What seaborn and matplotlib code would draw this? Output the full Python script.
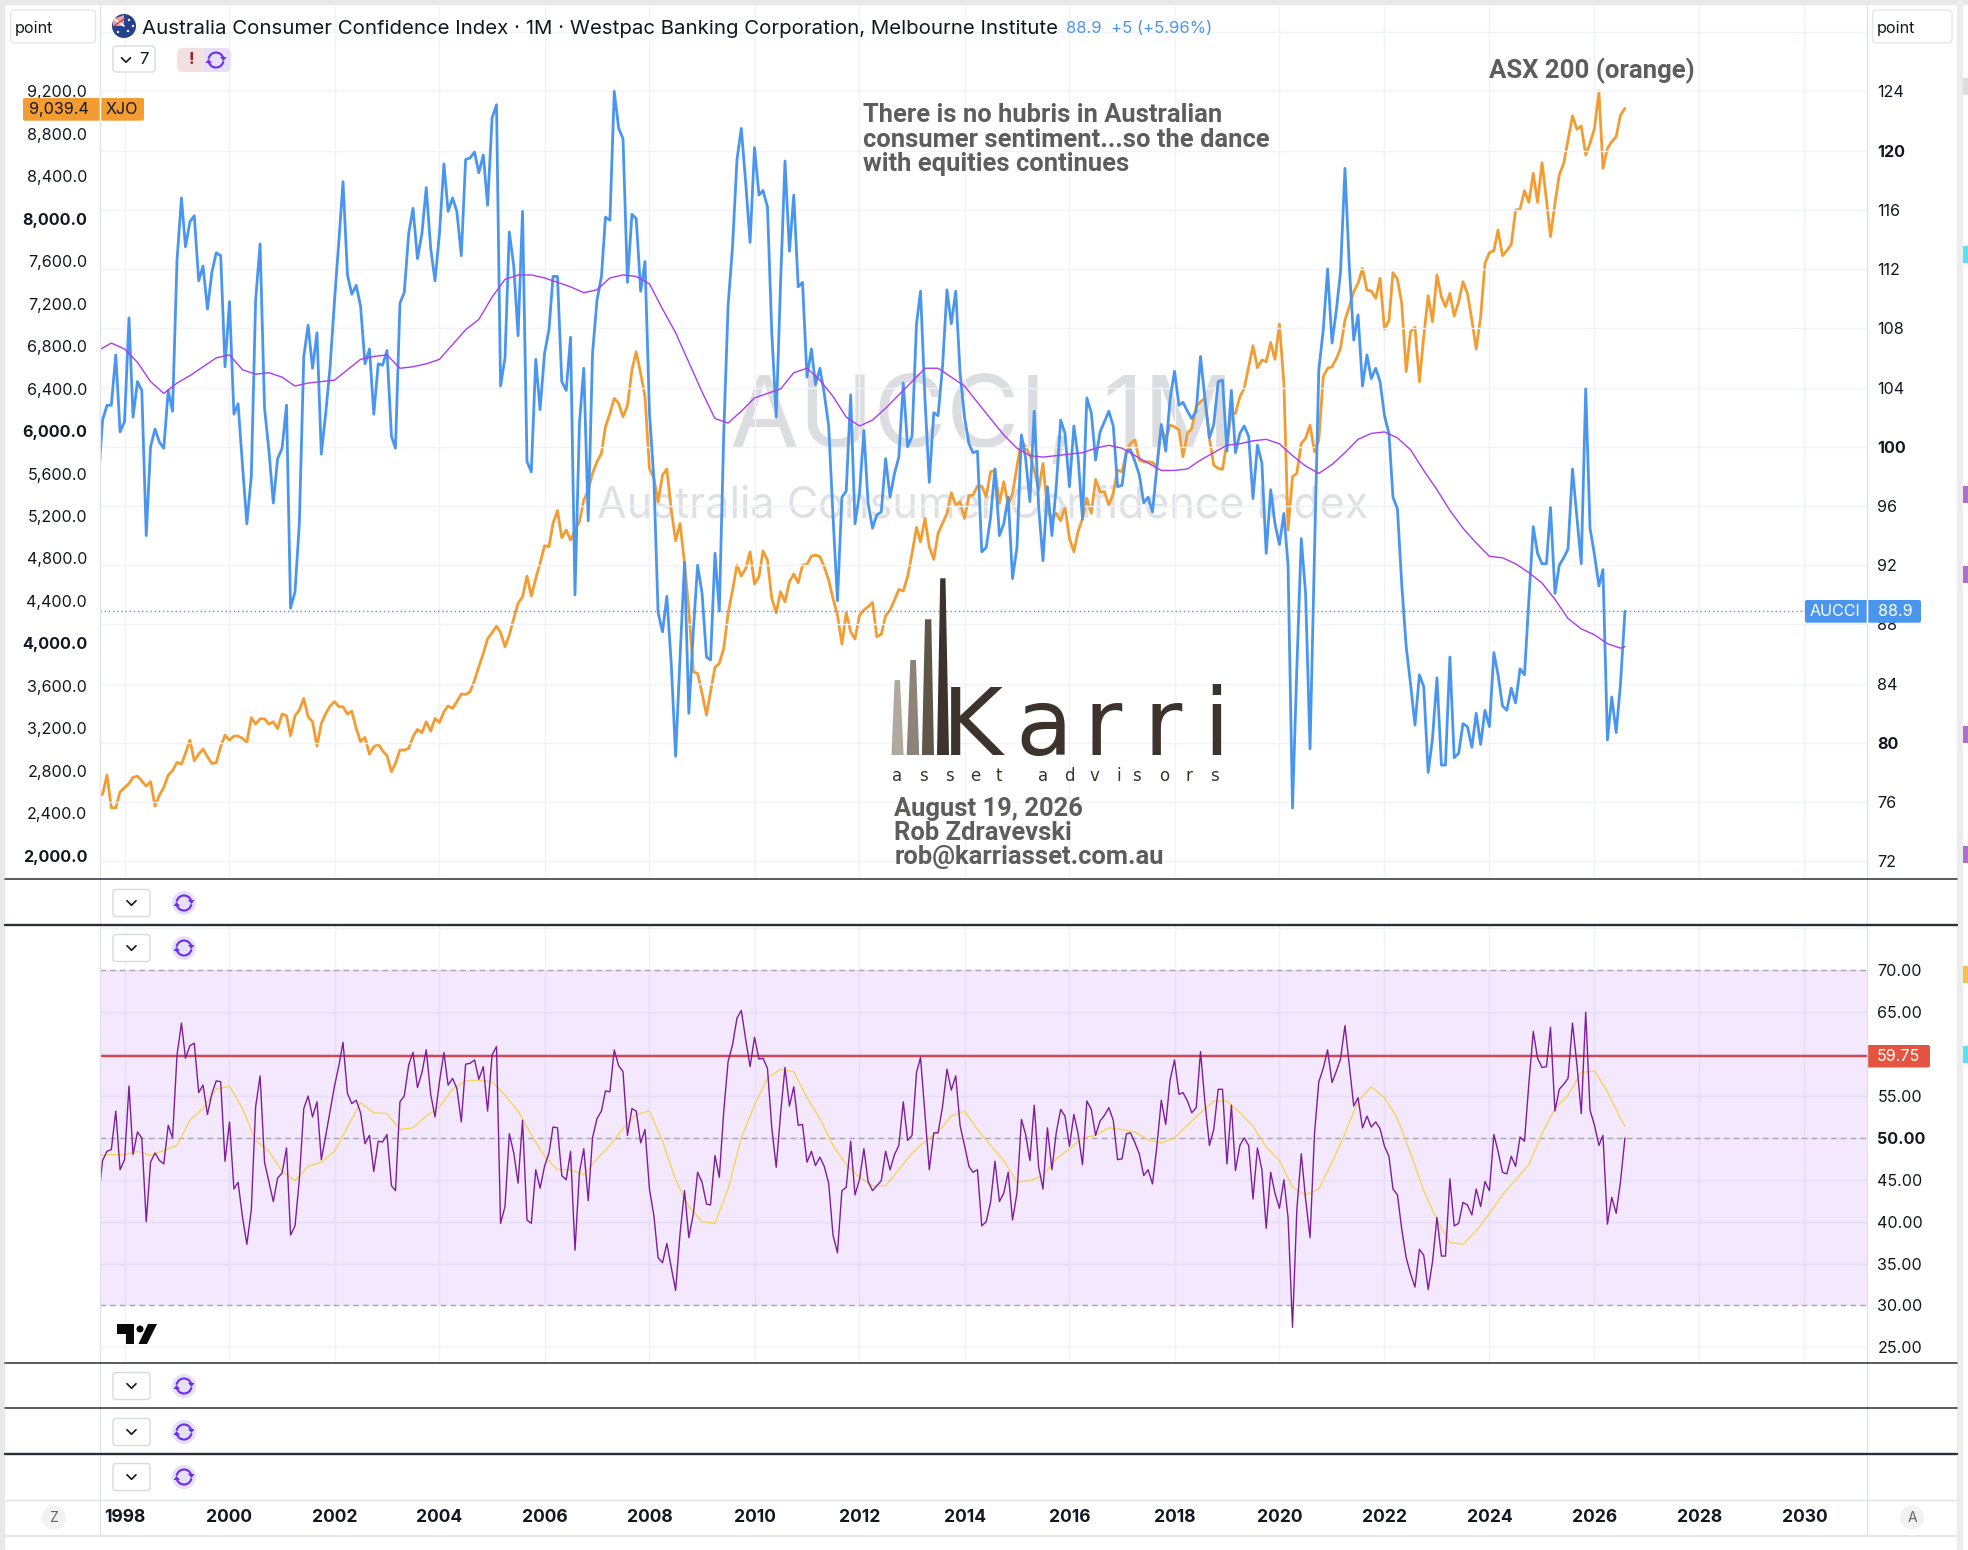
import pandas as pd
import matplotlib
matplotlib.use("Agg")
import matplotlib.pyplot as plt
from matplotlib.patches import Rectangle, Polygon, Circle, FancyBboxPatch, Arc
import seaborn as sns

# monthly values, Jul 1997 to Aug 2026, one row per year
aucci_values = [
    97.4, 101.8, 102.8, 102.8, 106.2, 101.0,
    101.7, 108.7, 102.0, 104.4, 103.8, 94.0, 100.0, 101.2, 100.3, 99.9, 103.8, 102.4,
    112.6, 116.8, 113.5, 115.2, 115.6, 111.2, 112.2, 109.3, 111.8, 113.1, 112.9, 105.4,
    109.8, 102.2, 102.9, 98.7, 94.8, 98.0, 109.9, 113.7, 102.6, 99.8, 96.2, 99.2,
    99.9, 102.8, 89.1, 90.2, 94.8, 106.1, 108.2, 105.3, 107.7, 99.5, 102.3, 105.4,
    109.9, 114.0, 117.9, 111.6, 110.3, 110.9, 109.5, 105.6, 106.6, 102.2, 105.6, 105.5,
    106.5, 100.7, 99.9, 109.7, 110.4, 114.4, 116.1, 112.7, 114.4, 117.5, 113.4, 111.2,
    114.4, 119.1, 115.9, 116.8, 115.9, 112.9, 119.4, 119.5, 119.9, 118.5, 119.7, 116.3,
    122.2, 123.1, 104.1, 106.0, 114.5, 112.2, 107.5, 115.9, 99.0, 98.3, 105.9, 102.5,
    106.3, 107.9, 111.5, 111.5, 104.4, 103.8, 107.4, 90.0, 101.6, 105.3, 95.0, 106.3,
    109.9, 111.5, 115.5, 115.3, 124.0, 121.5, 120.8, 111.1, 115.7, 115.4, 110.5, 112.5,
    102.3, 97.8, 88.8, 87.5, 89.9, 85.3, 79.1, 85.8, 92.2, 82.0, 87.5, 92.0,
    90.1, 85.8, 85.6, 92.8, 88.9, 100.9, 109.5, 113.5, 119.4, 121.5, 117.8, 113.8,
    120.2, 117.0, 117.3, 116.2, 107.7, 102.0, 111.0, 119.3, 113.2, 117.0, 110.8, 111.1,
    104.7, 106.6, 104.2, 105.3, 103.6, 101.4, 95.3, 89.6, 96.6, 97.0, 103.5, 94.8,
    96.8, 101.1, 96.2, 94.5, 95.4, 95.6, 99.2, 96.6, 98.2, 99.3, 104.3, 100.0,
    100.7, 108.3, 110.5, 103.2, 97.6, 102.3, 102.1, 105.4, 110.6, 108.3, 110.5, 105.0,
    102.0, 100.2, 99.6, 99.7, 92.9, 93.2, 95.2, 98.5, 94.0, 94.8, 96.6, 91.1,
    93.2, 100.8, 99.3, 96.3, 102.4, 95.9, 92.3, 97.3, 94.0, 97.3, 101.8, 100.9,
    97.3, 101.4, 99.3, 95.1, 103.3, 102.3, 99.1, 101.0, 101.7, 102.4, 101.4, 97.3,
    97.4, 99.7, 99.8, 99.0, 98.1, 96.2, 96.6, 95.6, 98.7, 101.5, 99.7, 103.2,
    105.1, 102.8, 103.0, 102.4, 101.9, 102.4, 106.1, 103.2, 100.6, 101.5, 104.4, 104.5,
    99.7, 103.8, 99.6, 100.9, 101.4, 100.7, 96.5, 100.1, 98.9, 92.8, 97.1, 94.8,
    93.4, 95.5, 92.0, 75.6, 85.0, 93.8, 90.1, 79.6, 92.9, 105.2, 107.9, 112.0,
    107.0, 109.3, 111.8, 118.8, 112.2, 107.2, 108.9, 104.1, 106.2, 104.6, 105.3, 104.4,
    102.1, 100.9, 96.6, 95.8, 90.7, 86.5, 84.0, 81.2, 84.6, 83.8, 78.0, 80.3,
    84.4, 78.5, 78.5, 85.8, 79.0, 79.3, 81.3, 81.1, 79.7, 82.0, 79.9, 82.2,
    81.1, 86.1, 84.6, 82.5, 82.2, 83.7, 82.7, 85.0, 84.6, 89.6, 94.6, 92.8,
    92.1, 92.1, 95.9, 90.1, 92.0, 92.5, 93.1, 98.5, 95.2, 92.1, 103.9, 94.5,
    92.7, 90.6, 91.7, 80.2, 83.1, 80.7, 84.0, 88.9,
]

xjo_values = [
    2575, 2577, 2760, 2452, 2452, 2603,
    2640, 2681, 2738, 2750, 2703, 2656, 2697, 2468, 2571, 2643, 2760, 2800,
    2879, 2863, 2964, 3089, 2894, 2957, 3004, 2932, 2869, 2876, 3026, 3136,
    3089, 3127, 3127, 3105, 3067, 3300, 3240, 3290, 3290, 3240, 3262, 3196,
    3334, 3318, 3130, 3318, 3372, 3482, 3309, 3262, 3033, 3246, 3340, 3410,
    3451, 3403, 3403, 3334, 3362, 3199, 3074, 3114, 2957, 3026, 3051, 2989,
    2942, 2791, 2869, 2995, 2995, 3011, 3121, 3190, 3158, 3262, 3174, 3293,
    3256, 3356, 3410, 3388, 3451, 3523, 3519, 3545, 3654, 3780, 3906, 4044,
    4100, 4163, 4103, 3968, 4078, 4235, 4377, 4439, 4634, 4446, 4612, 4753,
    4920, 4910, 5130, 5250, 4995, 5067, 4973, 5067, 5146, 5350, 5444, 5601,
    5711, 5790, 6041, 6166, 6308, 6261, 6135, 6239, 6575, 6747, 6543, 6323,
    5648, 5554, 5334, 5586, 5642, 5256, 4967, 5130, 4753, 4314, 3733, 3717,
    3529, 3325, 3545, 3774, 3811, 3953, 4282, 4502, 4738, 4634, 4706, 4863,
    4559, 4628, 4870, 4785, 4424, 4289, 4487, 4392, 4581, 4653, 4571, 4738,
    4744, 4822, 4832, 4816, 4722, 4596, 4424, 4267, 3994, 4289, 4110, 4041,
    4261, 4314, 4345, 4386, 4063, 4085, 4261, 4314, 4408, 4508, 4493, 4628,
    4848, 5093, 4957, 5177, 4910, 4791, 5036, 5130, 5225, 5419, 5303, 5334,
    5177, 5391, 5397, 5482, 5482, 5381, 5617, 5626, 5319, 5523, 5303, 5413,
    5664, 5915, 5852, 5774, 5633, 5444, 5695, 5256, 5177, 5225, 5155, 5287,
    4989, 4863, 5052, 5177, 5366, 5225, 5545, 5428, 5428, 5303, 5413, 5633,
    5617, 5805, 5884, 5915, 5727, 5711, 5711, 5705, 5664, 6041, 5915, 6056,
    6041, 6009, 5758, 5978, 6025, 6229, 6276, 6308, 5931, 5680, 5648, 5639,
    5900, 6166, 6166, 6323, 6402, 6606, 6804, 6597, 6669, 6653, 6835, 6675,
    7008, 6449, 5067, 5570, 5601, 5884, 5931, 6056, 5805, 5915, 6512, 6590,
    6606, 6685, 6779, 7046, 7171, 7313, 7391, 7532, 7328, 7319, 7250, 7438,
    6961, 7039, 7492, 7429, 7203, 6559, 6936, 6977, 6465, 6889, 7275, 7030,
    7470, 7265, 7171, 7297, 7083, 7218, 7407, 7297, 7046, 6772, 7077, 7579,
    7680, 7699, 7893, 7652, 7699, 7758, 8082, 8088, 8264, 8154, 8427, 8154,
    8528, 8176, 7831, 8145, 8412, 8521, 8741, 8970, 8842, 8873, 8600, 8710,
    8851, 9196, 8474, 8663, 8725, 8773, 8977, 9039.4,
]

rsi_values = [
    42.3, 47.3, 48.4, 48.6, 53.2, 46.2,
    47.4, 56.2, 48.0, 50.7, 50.0, 40.0, 47.1, 48.2, 47.3, 46.9, 51.5, 50.0,
    59.9, 63.7, 59.5, 61.0, 61.3, 55.4, 56.3, 52.8, 55.3, 56.8, 56.7, 47.2,
    51.9, 43.9, 44.7, 40.5, 37.3, 41.4, 53.7, 57.4, 47.1, 44.8, 42.4, 45.2,
    45.8, 48.8, 38.4, 39.5, 45.0, 53.5, 55.0, 52.5, 54.3, 47.4, 50.3, 53.2,
    56.2, 58.7, 61.4, 55.3, 54.1, 54.5, 53.0, 49.3, 50.3, 46.0, 49.6, 49.5,
    50.4, 44.3, 43.7, 54.3, 55.0, 58.7, 60.2, 56.0, 57.8, 60.5, 55.2, 52.5,
    56.7, 60.2, 56.3, 57.1, 55.9, 51.9, 58.8, 58.9, 59.3, 57.0, 58.5, 53.2,
    59.9, 60.9, 39.8, 41.8, 50.5, 48.2, 44.6, 52.1, 40.2, 39.8, 46.2, 44.0,
    46.6, 48.2, 51.3, 51.2, 45.5, 45.0, 48.4, 36.6, 45.9, 48.7, 42.5, 50.0,
    52.3, 53.2, 55.6, 55.5, 60.5, 58.6, 57.9, 50.3, 53.5, 53.2, 49.4, 51.0,
    43.9, 40.7, 35.7, 35.1, 37.4, 34.5, 31.8, 38.6, 43.7, 38.1, 40.9, 45.9,
    44.7, 42.1, 42.0, 47.9, 45.3, 53.2, 59.1, 61.1, 64.3, 65.2, 61.7, 58.5,
    62.0, 59.4, 59.5, 58.3, 51.2, 46.5, 52.8, 58.4, 53.8, 56.1, 51.5, 51.6,
    47.1, 48.4, 46.7, 47.7, 46.6, 44.6, 38.4, 36.3, 43.7, 44.1, 49.6, 43.2,
    45.0, 48.7, 44.8, 43.7, 44.3, 44.9, 48.4, 46.2, 48.0, 49.1, 54.3, 49.7,
    50.3, 57.8, 59.6, 52.8, 46.2, 50.6, 50.6, 53.7, 58.2, 55.7, 57.4, 51.5,
    49.1, 46.6, 45.9, 46.2, 39.5, 40.0, 42.3, 47.2, 42.4, 43.4, 45.9, 40.2,
    43.4, 52.2, 50.5, 47.3, 53.9, 46.5, 43.9, 51.2, 46.2, 50.6, 53.4, 52.6,
    49.0, 52.8, 50.5, 46.8, 54.4, 53.4, 50.3, 52.0, 52.7, 53.6, 52.1, 47.4,
    47.5, 50.5, 50.6, 49.4, 48.1, 45.5, 46.2, 44.5, 49.1, 54.5, 51.6, 56.9,
    59.3, 55.2, 55.4, 54.4, 53.0, 53.6, 60.3, 54.2, 49.1, 51.0, 55.8, 55.8,
    46.9, 53.9, 46.1, 49.1, 50.0, 49.1, 42.7, 48.8, 46.2, 39.2, 45.9, 43.4,
    41.6, 45.0, 40.5, 27.4, 41.4, 48.1, 42.7, 38.1, 50.5, 56.7, 58.3, 60.5,
    56.6, 58.0, 59.4, 63.4, 58.7, 53.8, 54.8, 51.2, 52.6, 51.3, 51.9, 51.1,
    49.0, 47.8, 43.9, 43.2, 39.1, 35.7, 33.8, 32.2, 36.7, 36.0, 31.9, 35.2,
    40.5, 35.9, 35.9, 45.1, 39.5, 39.8, 42.3, 42.0, 40.8, 43.9, 41.8, 44.8,
    43.7, 50.4, 48.4, 45.9, 45.7, 47.8, 46.6, 50.1, 49.6, 56.4, 62.7, 59.5,
    58.4, 58.5, 63.2, 53.2, 55.8, 56.4, 57.1, 63.7, 58.7, 52.9, 65.0, 53.3,
    51.5, 49.1, 50.3, 39.7, 42.9, 41.0, 44.8, 50.0,
]

# moving averages read every three months, Jul 1997 to Jul 2026, then Aug 2026
aucci_ma_values = [
    106.5, 107.0,
    106.6, 105.7, 104.4, 103.6,
    104.3, 104.8, 105.4, 106.0,
    106.2, 105.2, 104.9, 105.0,
    104.7, 104.1, 104.3, 104.4,
    104.5, 105.2, 105.9, 106.1,
    106.2, 105.3, 105.4, 105.6,
    105.9, 106.9, 107.9, 108.6,
    110.1, 111.3, 111.6, 111.6,
    111.4, 111.1, 110.8, 110.4,
    110.6, 111.4, 111.6, 111.5,
    111.0, 109.3, 107.7, 105.7,
    103.7, 101.9, 101.6, 102.4,
    103.3, 103.6, 103.9, 105.0,
    105.3, 104.5, 103.4, 102.0,
    101.4, 101.8, 102.6, 103.5,
    104.4, 105.3, 105.3, 104.7,
    104.1, 103.0, 101.9, 100.8,
    99.9, 99.4, 99.3, 99.4,
    99.5, 99.6, 99.9, 100.1,
    99.9, 99.4, 98.9, 98.4,
    98.4, 98.5, 99.1, 99.6,
    100.1, 100.2, 100.4, 100.5,
    100.2, 99.4, 98.7, 98.2,
    98.8, 99.6, 100.5, 100.9,
    101.0, 100.6, 99.8, 98.4,
    97.1, 95.7, 94.5, 93.5,
    92.6, 92.5, 92.1, 91.5,
    90.8, 89.7, 88.4, 87.7,
    87.3, 86.7, 86.4, 86.5,
]

rsi_ma_values = [
    47.9, 48.0,
    48.0, 48.4, 47.9, 48.5,
    49.1, 52.1, 53.5, 55.8,
    56.2, 53.5, 49.7, 48.4,
    46.0, 44.9, 46.6, 47.1,
    48.4, 51.3, 54.2, 53.0,
    52.9, 51.0, 51.2, 52.6,
    53.7, 55.8, 56.8, 56.9,
    56.7, 55.1, 53.2, 50.4,
    47.8, 46.2, 46.2, 45.6,
    47.5, 49.1, 51.1, 52.8,
    53.2, 49.6, 45.0, 41.8,
    40.0, 39.8, 43.9, 50.0,
    53.9, 57.1, 58.2, 57.9,
    54.8, 52.3, 49.1, 46.8,
    45.3, 44.3, 44.3, 46.2,
    48.2, 49.6, 50.7, 52.6,
    53.2, 51.0, 49.1, 47.3,
    44.7, 44.9, 45.5, 47.5,
    48.7, 50.0, 50.3, 51.2,
    51.0, 50.7, 49.8, 49.4,
    50.0, 51.5, 53.0, 54.4,
    54.4, 53.0, 51.4, 48.9,
    47.3, 44.1, 43.2, 43.9,
    47.1, 50.5, 54.4, 56.1,
    54.8, 52.3, 48.2, 43.7,
    40.2, 37.5, 37.3, 38.9,
    41.0, 43.2, 45.0, 46.8,
    50.5, 53.5, 55.1, 57.8,
    58.0, 55.5, 52.3, 51.4,
]

year_ticks = list(range(1998, 2032, 2))
left_ticks = list(range(2000, 9600, 400))
right_ticks = list(range(72, 132, 4))
rsi_ticks = list(range(25, 80, 5))
aucci_last = 88.9
xjo_last = 9039.4
rsi_level = 59.75

W, H = 1968, 1550
LEFT, RIGHT = 100.4, 1867
GRID = "#f0f3fa"
BLUE = "#4a96ee"
ORANGE = "#f39c32"
DARK = "#131722"
GREY_TXT = "#5d5d5d"
LAV = "#e6e0f5"


def box(l, t, r, b):
    return [l / W, 1 - b / H, (r - l) / W, (b - t) / H]


sns.set_theme(style="white")
plt.rcParams["font.family"] = ["Inter", "DejaVu Sans"]

months = pd.date_range("1997-07-01", periods=len(aucci_values), freq="MS")
quarters = pd.date_range("1997-07-01", "2026-07-01", freq="3MS").append(pd.DatetimeIndex(["2026-08-01"]))
x_left = pd.Timestamp("1998-01-01") - pd.Timedelta(days=168)
x_right = pd.Timestamp("2030-01-01") + pd.Timedelta(days=435)
year_dates = [pd.Timestamp(year=y, month=1, day=1) for y in year_ticks]

fig = plt.figure(figsize=(W / 100, H / 100), dpi=100, facecolor="white")

# watermark sits behind everything else
back = fig.add_axes([0, 0, 1, 1], zorder=0)
back.set_xlim(0, W)
back.set_ylim(H, 0)
back.axis("off")
back.text(982, 421, "AUCCI, 1M", fontsize=72, color="#dcdde0", ha="center", va="center")
back.text(983, 506, "Australia Consumer Confidence Index", fontsize=31, color="#dfe0e3", ha="center", va="center")

# main pane: two y scales on one time axis
ax_xjo = fig.add_axes(box(LEFT, 5, RIGHT, 879.3), zorder=1)
ax_xjo.patch.set_visible(False)
ax_aucci = ax_xjo.twinx()
ax_aucci.set_zorder(2)
ax_aucci.patch.set_visible(False)

sns.lineplot(x=months, y=xjo_values, ax=ax_xjo, color=ORANGE, linewidth=2.0, errorbar=None)
sns.lineplot(x=months, y=aucci_values, ax=ax_aucci, color=BLUE, linewidth=2.0, errorbar=None)
sns.lineplot(x=quarters, y=aucci_ma_values, ax=ax_aucci, color="#a93cf0", linewidth=1.0, errorbar=None)
ax_aucci.axhline(aucci_last, color=BLUE, linewidth=1.0, linestyle=(0, (1, 2)))

ax_xjo.set_xlim(x_left, x_right)
ax_xjo.set_ylim(1778, 10013)
ax_aucci.set_ylim(70.79, 129.83)
ax_xjo.set_yticks(left_ticks)
ax_xjo.set_yticklabels([f"{v:,.1f}" for v in left_ticks])
ax_aucci.set_yticks(right_ticks)
ax_aucci.set_yticklabels([str(v) if v < 128 else "" for v in right_ticks])
ax_xjo.set_xticks(year_dates)
ax_xjo.tick_params(axis="x", length=0, labelbottom=False)
ax_xjo.tick_params(axis="y", length=0, pad=9.5, labelsize=11.6, labelcolor=DARK)
ax_aucci.tick_params(axis="y", length=0, pad=7.5, labelsize=11.6, labelcolor=DARK)
ax_xjo.xaxis.grid(True, color=GRID, linewidth=1)
ax_xjo.yaxis.grid(False)
ax_aucci.yaxis.grid(True, color=GRID, linewidth=1)
ax_aucci.set_axisbelow(True)
ax_xjo.set_axisbelow(True)
ax_xjo.set_xlabel("")
ax_xjo.set_ylabel("")
ax_aucci.set_xlabel("")
ax_aucci.set_ylabel("")
for lab, v in zip(ax_xjo.get_yticklabels(), left_ticks):
    if v % 2000 == 0:
        lab.set_fontweight("bold")
for lab, v in zip(ax_aucci.get_yticklabels(), right_ticks):
    if v % 20 == 0:
        lab.set_fontweight("bold")
for a in (ax_xjo, ax_aucci):
    for s in a.spines.values():
        s.set_visible(False)

# RSI pane
ax_rsi = fig.add_axes(box(LEFT, 924.7, RIGHT, 1363.3), zorder=2)
ax_rsi.patch.set_visible(False)
ax_rsi.axhspan(30, 70, color="#9020f0", alpha=0.10, linewidth=0, zorder=1)
for lvl in (30, 50, 70):
    ax_rsi.axhline(lvl, color="#a9a6ad", linewidth=1, linestyle=(0, (4, 3)), zorder=2)
ax_rsi.axhline(rsi_level, color="#d9434b", linewidth=1.7, zorder=3)
sns.lineplot(x=quarters, y=rsi_ma_values, ax=ax_rsi, color="#f6d55c", linewidth=1.0, errorbar=None, zorder=4)
sns.lineplot(x=months, y=rsi_values, ax=ax_rsi, color="#7e1e9c", linewidth=1.0, errorbar=None, zorder=5)
ax_rsi.set_xlim(x_left, x_right)
ax_rsi.set_ylim(23.1, 75.44)
ax_rsi.set_yticks(rsi_ticks)
ax_rsi.set_yticklabels([f"{v:.2f}" if v < 75 else "" for v in rsi_ticks])
ax_rsi.yaxis.tick_right()
ax_rsi.set_xticks(year_dates)
ax_rsi.tick_params(axis="x", length=0, labelbottom=False)
ax_rsi.tick_params(axis="y", length=0, pad=7.5, labelsize=11.6, labelcolor=DARK)
ax_rsi.grid(True, color=GRID, linewidth=1)
ax_rsi.set_axisbelow(True)
ax_rsi.set_xlabel("")
ax_rsi.set_ylabel("")
for lab, v in zip(ax_rsi.get_yticklabels(), rsi_ticks):
    if v == 50:
        lab.set_fontweight("bold")
for s in ax_rsi.spines.values():
    s.set_visible(False)

# time axis at the bottom
ax_time = fig.add_axes(box(LEFT, 1454, RIGHT, 1499.6), zorder=2)
ax_time.patch.set_visible(False)
ax_time.set_xlim(x_left, x_right)
ax_time.set_xticks(year_dates)
ax_time.set_xticklabels([str(y) for y in year_ticks], fontweight="bold", fontsize=12.6, color=DARK)
ax_time.set_yticks([])
ax_time.tick_params(axis="x", length=0, pad=7)
ax_time.grid(False)
for s in ax_time.spines.values():
    s.set_visible(False)

# chrome in pixel coordinates
ov = fig.add_axes([0, 0, 1, 1], zorder=5)
ov.set_xlim(0, W)
ov.set_ylim(H, 0)
ov.axis("off")
ov.patch.set_visible(False)


def rrect(l, t, r, b, fc, ec="none", lw=1.0, rad=3):
    ov.add_patch(FancyBboxPatch((l + rad, t + rad), r - l - 2 * rad, b - t - 2 * rad,
                                boxstyle=f"round,pad={rad}", fc=fc, ec=ec, lw=lw))


def chevron(cx, cy, size=4.5):
    ov.plot([cx - size, cx, cx + size], [cy - size / 2, cy + size / 2, cy - size / 2], color=DARK, lw=1.2)


def refresh(cx, cy):
    c = "#6a2cf5"
    ov.add_patch(Arc((cx, cy), 15, 15, theta1=190, theta2=340, color=c, lw=1.5))
    ov.add_patch(Arc((cx, cy), 15, 15, theta1=10, theta2=160, color=c, lw=1.5))
    ov.add_patch(Polygon([(cx + 4, cy - 3), (cx + 10.5, cy - 3), (cx + 7.5, cy + 1)], fc=c, ec="none"))
    ov.add_patch(Polygon([(cx - 4, cy + 3), (cx - 10.5, cy + 3), (cx - 7.5, cy - 1)], fc=c, ec="none"))


def sync_button(cy):
    rrect(113, cy - 13.5, 150, cy + 13.5, "white", "#d8dae0")
    chevron(131.5, cy)
    ov.add_patch(Circle((184, cy), 12, fc=LAV, ec="none"))
    refresh(184, cy)


# outer frame and pane separators
ov.add_patch(Rectangle((0, 0), W, 5, fc="#e8e8e8", ec="none"))
ov.add_patch(Rectangle((0, 0), 5, H, fc="#e8e8e8", ec="none"))
ov.add_patch(Rectangle((1957, 0), 6, H, fc="#ececec", ec="none"))
for x in (LEFT, RIGHT):
    ov.plot([x, x], [5, 1536], color="#e0e3eb", lw=1)
ov.plot([5, 1957], [879.3, 879.3], color="#2a2e39", lw=1.1)
ov.plot([5, 1957], [924.7, 924.7], color="#2a2e39", lw=1.7)
ov.plot([5, 1957], [1363.3, 1363.3], color="#2a2e39", lw=1.1)
ov.plot([5, 1957], [1408, 1408], color="#2a2e39", lw=1.1)
ov.plot([5, 1957], [1454, 1454], color="#2a2e39", lw=1.7)
ov.plot([5, 1957], [1499.6, 1499.6], color="#e0e3eb", lw=1)
ov.plot([5, 1957], [1536, 1536], color="#e6e7ea", lw=1.5)

# side markers
for t, c in [(78, "#dddddd"), (246, "#5fe0f0"), (486, "#b06fd0"), (566, "#b06fd0"), (726, "#b06fd0"),
             (846, "#b06fd0"), (966, "#f2c14e"), (1046, "#5fe0f0")]:
    ov.add_patch(Rectangle((1963, t), 5, 17, fc=c, ec="none"))

# top bar
rrect(10.7, 10, 95.5, 43, "white", "#e6e7ea", rad=4)
ov.text(15, 28.5, "point", fontsize=11.6, color=DARK, va="center")
rrect(1872.6, 10, 1952, 43, "white", "#e6e7ea", rad=4)
ov.text(1877, 28.5, "point", fontsize=11.6, color=DARK, va="center")
ov.add_patch(Circle((124, 26), 12, fc="#23418f", ec="none"))
ov.add_patch(Polygon([(113, 19), (124, 15), (124, 26), (113, 26)], fc="#e8a0a0", ec="none"))
ov.plot([114, 124], [19, 26], color="white", lw=1.2)
ov.plot([124, 114], [19, 26], color="#d04040", lw=1)
for sx, sy in [(129, 20), (133, 26), (128, 31), (118, 32)]:
    ov.add_patch(Circle((sx, sy), 1.2, fc="white", ec="none"))
ov.text(142, 29, "Australia Consumer Confidence Index \u00b7 1M \u00b7 Westpac Banking Corporation, Melbourne Institute",
        fontsize=14.7, color=DARK, va="center")
ov.text(1066, 28.5, "88.9", fontsize=12, color=BLUE, va="center")
ov.text(1111, 28.5, "+5 (+5.96%)", fontsize=12, color=BLUE, va="center")
rrect(113, 46, 155, 72, "white", "#d8dae0")
chevron(126, 60)
ov.text(144, 60, "7", fontsize=12, color=DARK, ha="center", va="center")
rrect(177, 48, 231, 72, "#f3e0e0", rad=6)
ov.add_patch(Rectangle((204, 48), 21, 24, fc=LAV, ec="none"))
rrect(215, 48, 231, 72, LAV, rad=6)
ov.text(191, 60, "!", fontsize=12, color="#a02020", fontweight="bold", ha="center", va="center")
refresh(216, 60)

# price badges
rrect(23, 98, 144, 120.7, ORANGE, rad=2)
ov.plot([LEFT, LEFT], [98, 120.7], color="white", lw=1)
ov.text(29, 109.3, f"{xjo_last:,.1f}", fontsize=11.6, color=DARK, va="center")
ov.text(122, 109.3, "XJO", fontsize=11.6, color=DARK, ha="center", va="center")
rrect(1805, 600, 1921, 622.7, BLUE, rad=2)
ov.plot([RIGHT, RIGHT], [600, 622.7], color="white", lw=1)
ov.text(1835, 611.3, "AUCCI", fontsize=11.6, color="white", ha="center", va="center")
ov.text(1895, 611.3, str(aucci_last), fontsize=11.6, color="white", ha="center", va="center")
rrect(1867, 1045, 1930, 1067.5, "#e35441", rad=2)
ov.text(1877, 1056.3, f"{rsi_level:.2f}", fontsize=11.6, color="white", va="center")

# notes on the chart
for i, line in enumerate(["There is no hubris in Australian", "consumer sentiment...so the dance", "with equities continues"]):
    ov.text(863, 115.5 + i * 24.2, line, fontsize=18.4, color=GREY_TXT, fontweight="bold", va="center", family=["Roboto"])
ov.text(1489, 71, "ASX 200 (orange)", fontsize=18.5, color=GREY_TXT, fontweight="bold", va="center", family=["Roboto"])
for i, line in enumerate(["August 19, 2026", "Rob Zdravevski", "rob@karriasset.com.au"]):
    ov.text(894.5, 809 + i * 24, line, fontsize=18.4, color=GREY_TXT, fontweight="bold", va="center", family=["Roboto"])

# logo
for (bl, br, tl, tr, top), c in zip(
        [(891.5, 903.6, 894.6, 900, 680), (906.7, 919.2, 910.3, 916, 660), (921.9, 934, 925, 931.3, 619.3), (937, 949, 940.2, 945.5, 578.3)],
        ["#b0a9a0", "#8c8478", "#5f564a", "#3b332c"]):
    ov.add_patch(Polygon([(bl, 755), (tl, top), (tr, top), (br, 755)], fc=c, ec="none"))
for ch, x in zip("Karri", [942, 1015, 1084, 1144, 1203]):
    ov.text(x, 755, ch, fontsize=67, color="#3b332c", ha="left", va="baseline", family=["DejaVu Sans"])
for ch, z in zip("assetadvisors", [543, 602, 660, 718, 775, 870, 928, 985, 1045, 1080, 1140, 1200, 1255]):
    ov.text(650 + z / 2.24, 776, ch, fontsize=12, color="#3b332c", va="center", family=["DejaVu Sans"])

# tradingview mark
ov.add_patch(Polygon([(117, 1324), (134, 1324), (134, 1344), (126, 1344), (126, 1334), (117, 1334)], fc="#0a0a0a", ec="none"))
ov.add_patch(Circle((140, 1329), 3.5, fc="#0a0a0a", ec="none"))
ov.add_patch(Polygon([(148, 1324), (157, 1324), (147, 1344), (138.5, 1344)], fc="#0a0a0a", ec="none"))

for cy in (903, 948, 1386, 1432, 1477):
    sync_button(cy)

ov.add_patch(Circle((53.6, 1517.5), 12, fc="#f2f2f2", ec="none"))
ov.text(53.6, 1517.5, "Z", fontsize=10, color="#666666", ha="center", va="center")
ov.add_patch(Circle((1912, 1517.5), 12, fc="#f2f2f2", ec="none"))
ov.text(1912, 1517.5, "A", fontsize=10, color="#666666", ha="center", va="center")

fig.savefig("out.png", dpi=100)
